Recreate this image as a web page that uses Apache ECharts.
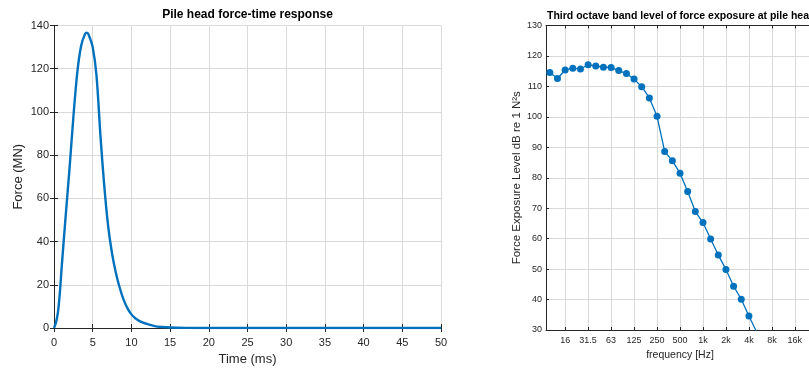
<!DOCTYPE html>
<html>
<head>
<meta charset="utf-8">
<script src="https://cdn.jsdelivr.net/npm/echarts@6/dist/echarts.min.js"></script>
<style>
  html, body { margin: 0; padding: 0; overflow: hidden; background: #fff; }
  #chart { width: 830px; height: 371px; }
</style>
</head>
<body>
<div id="chart"></div>
<script>
// Pile head force pulse: time (ms) and force (MN)
const forceTime = [0, 0.25, 0.5, 0.75, 1, 1.5, 2, 2.5, 3, 3.5, 4, 4.25, 4.5, 5, 5.5, 6, 6.5, 7, 7.5, 8, 8.5, 9, 9.5, 10, 10.5, 11, 11.5, 12, 13, 14, 15, 17, 20, 25, 30, 35, 40, 45, 50];
const forceMN   = [0, 2.5, 7, 16, 28.5, 51.5, 73.5, 97.5, 118, 130.5, 136, 136.7, 135.5, 130, 116.5, 89, 65.5, 47, 34.5, 25.5, 18.5, 13, 9.1, 6.3, 4.5, 3.3, 2.5, 1.9, 0.9, 0.45, 0.2, 0.05, 0, 0, 0, 0, 0, 0, 0];

// Third-octave band force exposure levels (dB re 1 N^2 s), 10 Hz upward
const bandFreqs = [10, 12.5, 16, 20, 25, 31.5, 40, 50, 63, 80, 100, 125, 160, 200, 250, 315, 400, 500, 630, 800, 1000, 1250, 1600, 2000, 2500, 3150, 4000, 5000];
const bandLevels = [114.6, 112.6, 115.4, 116.0, 115.7, 117.1, 116.7, 116.3, 116.2, 115.2, 114.2, 112.4, 109.9, 106.2, 100.2, 88.6, 85.6, 81.5, 75.5, 68.9, 65.3, 59.9, 54.6, 49.9, 44.4, 40.1, 34.6, 29.4];

// Octave tick labels and the band positions they sit on
const octaveLabels = ['16', '31.5', '63', '125', '250', '500', '1k', '2k', '4k', '8k', '16k'];
const octaveBands  = [3, 6, 9, 12, 15, 18, 21, 24, 27, 30, 33];

const BLUE = '#0072BD';
const AXIS = '#262626';
const GRID = '#dadada';
const FONT = 'Liberation Sans, Arial, sans-serif';

const forceData = forceTime.map((t, i) => [t, forceMN[i]]);
const bandData = bandLevels.map((v, i) => [i + 1, v]);
const labelOf = {};
octaveBands.forEach((b, i) => { labelOf[b] = octaveLabels[i]; });

function boxAxis(extra) {
  return Object.assign({
    type: 'value',
    axisLine: { show: true, lineStyle: { color: AXIS, width: 1 } },
    axisLabel: { show: false },
    splitLine: { show: false }
  }, extra);
}

const chart = echarts.init(document.getElementById('chart'), null, { renderer: 'canvas' });

chart.setOption({
  animation: false,
  backgroundColor: '#fff',
  textStyle: { fontFamily: FONT },
  title: [
    {
      text: 'Pile head force-time response',
      left: 247.5, top: 9, padding: 0, textAlign: 'center',
      textStyle: { fontFamily: FONT, fontSize: 12, fontWeight: 'bold', color: '#000' }
    },
    {
      text: 'Third octave band level of force exposure at pile head',
      left: 547, top: 11, padding: 0,
      textStyle: { fontFamily: FONT, fontSize: 10.5, fontWeight: 'bold', color: '#000' }
    }
  ],
  grid: [
    { left: 54, top: 25.5, width: 387, height: 304.5 },
    { left: 546, top: 25.5, width: 268, height: 304.5 }
  ],
  xAxis: [
    {
      gridIndex: 0, type: 'value', min: 0, max: 50, interval: 5,
      name: 'Time (ms)', nameLocation: 'middle', nameGap: 25,
      nameTextStyle: { fontFamily: FONT, fontSize: 13, color: AXIS },
      axisLine: { show: true, onZero: false, lineStyle: { color: AXIS, width: 1 } },
      axisTick: { show: true, inside: true, length: 4, lineStyle: { color: AXIS } },
      axisLabel: { fontFamily: FONT, fontSize: 11, color: AXIS, margin: 9 },
      splitLine: { show: true, lineStyle: { color: GRID, width: 1 } }
    },
    boxAxis({ gridIndex: 0, position: 'top', min: 0, max: 50, interval: 5,
      axisTick: { show: true, inside: true, length: 4, lineStyle: { color: AXIS } } }),
    {
      gridIndex: 1, type: 'value', min: 0.5, max: 35.5,
      name: 'frequency [Hz]', nameLocation: 'middle', nameGap: 18,
      nameTextStyle: { fontFamily: FONT, fontSize: 10.5, color: AXIS },
      axisLine: { show: true, onZero: false, lineStyle: { color: AXIS, width: 1 } },
      axisTick: { show: true, inside: true, length: 3, customValues: octaveBands, lineStyle: { color: AXIS } },
      axisLabel: { fontFamily: FONT, fontSize: 9, color: AXIS, margin: 6, customValues: octaveBands,
        formatter: v => labelOf[v] || '' },
      splitLine: { show: true, lineStyle: { color: GRID, width: 1 } }
    },
    boxAxis({ gridIndex: 1, position: 'top', min: 0.5, max: 35.5,
      axisTick: { show: true, inside: true, length: 3, customValues: octaveBands, lineStyle: { color: AXIS } } })
  ],
  yAxis: [
    {
      gridIndex: 0, type: 'value', min: 0, max: 140, interval: 20,
      name: 'Force (MN)', nameLocation: 'middle', nameGap: 29,
      nameTextStyle: { fontFamily: FONT, fontSize: 13, color: AXIS },
      axisLine: { show: true, onZero: false, lineStyle: { color: AXIS, width: 1 } },
      axisTick: { show: true, inside: true, length: 4, lineStyle: { color: AXIS } },
      axisLabel: { fontFamily: FONT, fontSize: 11, color: AXIS, margin: 5 },
      splitLine: { show: true, lineStyle: { color: GRID, width: 1 } }
    },
    boxAxis({ gridIndex: 0, position: 'right', min: 0, max: 140, interval: 20,
      axisTick: { show: true, inside: true, length: 4, lineStyle: { color: AXIS } } }),
    {
      gridIndex: 1, type: 'value', min: 30, max: 130, interval: 10,
      name: 'Force Exposure Level dB re 1 N\u00B2s', nameLocation: 'middle', nameGap: 21,
      nameTextStyle: { fontFamily: FONT, fontSize: 11.5, color: AXIS },
      axisLine: { show: true, onZero: false, lineStyle: { color: AXIS, width: 1 } },
      axisTick: { show: true, inside: true, length: 3, lineStyle: { color: AXIS } },
      axisLabel: { fontFamily: FONT, fontSize: 9, color: AXIS, margin: 4 },
      splitLine: { show: true, lineStyle: { color: GRID, width: 1 } }
    },
    boxAxis({ gridIndex: 1, position: 'right', min: 30, max: 130, interval: 10,
      axisTick: { show: true, inside: true, length: 3, lineStyle: { color: AXIS } } })
  ],
  series: [
    {
      type: 'line', xAxisIndex: 0, yAxisIndex: 0,
      data: forceData, smooth: 0.3,
      showSymbol: false, clip: true,
      lineStyle: { color: BLUE, width: 2.4 }
    },
    {
      type: 'line', xAxisIndex: 2, yAxisIndex: 2,
      data: bandData, clip: true,
      symbol: 'circle', symbolSize: 7,
      itemStyle: { color: BLUE },
      lineStyle: { color: BLUE, width: 1.3 }
    }
  ]
});
</script>
</body>
</html>
